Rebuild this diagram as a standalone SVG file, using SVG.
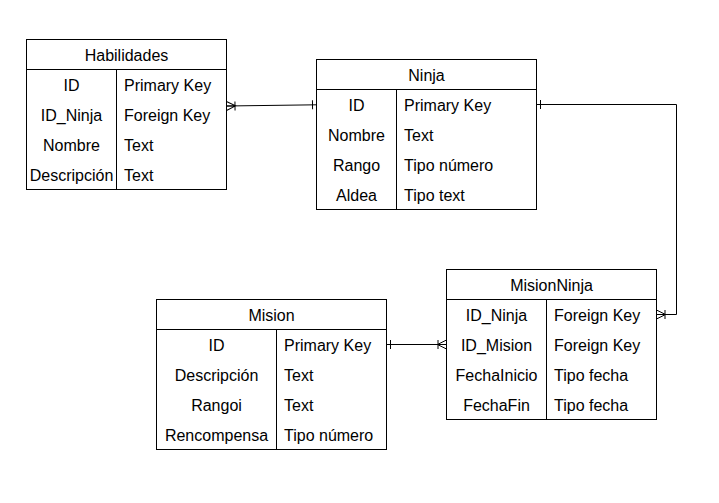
<svg xmlns="http://www.w3.org/2000/svg" width="719" height="503" viewBox="0 0 719 503">
<style>
.box{fill:#fff;stroke:#000;stroke-width:1}
.ln{fill:none;stroke:#000;stroke-width:1}
text{font-family:"Liberation Sans",Arial,sans-serif;font-size:16px;fill:#000}
.c{text-anchor:middle}
</style>
<defs>
<marker id="one" markerUnits="userSpaceOnUse" viewBox="-12 -6 14 12" refX="0" refY="0" markerWidth="14" markerHeight="12" orient="auto-start-reverse" overflow="visible">
<path d="M-4,-4.5 V4.5" fill="none" stroke="#000" stroke-width="1"/>
</marker>
<marker id="many" markerUnits="userSpaceOnUse" viewBox="-12 -6 14 12" refX="0" refY="0" markerWidth="14" markerHeight="12" orient="auto-start-reverse" overflow="visible">
<path d="M0,-4.5 L-9,0 L0,4.5 M-9,0 H0 M-8.5,-4.5 V4.5" fill="none" stroke="#000" stroke-width="1"/>
</marker>
</defs>
<rect width="719" height="503" fill="#fff"/>
<g id="connectors">
<path class="ln" d="M226.5,106 L316.5,104.8" marker-start="url(#many)" marker-end="url(#one)"/>
<path class="ln" d="M536.5,104.5 H676.5 V314.5 H656.5" marker-start="url(#one)" marker-end="url(#many)"/>
<path class="ln" d="M386.5,344.5 H446.5" marker-start="url(#one)" marker-end="url(#many)"/>
</g>
<g id="Habilidades">
<rect class="box" x="26.5" y="39.5" width="200" height="150"/>
<path class="ln" d="M26.5,69.5 H226.5 M116.5,69.5 V189.5"/>
<text class="c" x="126.5" y="60.5">Habilidades</text>
<text class="c" x="71.5" y="90.5">ID</text>
<text class="c" x="71.5" y="120.5">ID_Ninja</text>
<text class="c" x="71.5" y="150.5">Nombre</text>
<text class="c" x="71.5" y="180.5">Descripción</text>
<text x="124" y="90.5">Primary Key</text>
<text x="124" y="120.5">Foreign Key</text>
<text x="124" y="150.5">Text</text>
<text x="124" y="180.5">Text</text>
</g>
<g id="Ninja">
<rect class="box" x="316.5" y="59.5" width="220" height="150"/>
<path class="ln" d="M316.5,89.5 H536.5 M396.5,89.5 V209.5"/>
<text class="c" x="426.5" y="80.5">Ninja</text>
<text class="c" x="356.5" y="110.5">ID</text>
<text class="c" x="356.5" y="140.5">Nombre</text>
<text class="c" x="356.5" y="170.5">Rango</text>
<text class="c" x="356.5" y="200.5">Aldea</text>
<text x="404" y="110.5">Primary Key</text>
<text x="404" y="140.5">Text</text>
<text x="404" y="170.5">Tipo número</text>
<text x="404" y="200.5">Tipo text</text>
</g>
<g id="Mision">
<rect class="box" x="156.5" y="299.5" width="230" height="150"/>
<path class="ln" d="M156.5,329.5 H386.5 M276.5,329.5 V449.5"/>
<text class="c" x="271.5" y="320.5">Mision</text>
<text class="c" x="216.5" y="350.5">ID</text>
<text class="c" x="216.5" y="380.5">Descripción</text>
<text class="c" x="216.5" y="410.5">Rangoi</text>
<text class="c" x="216.5" y="440.5">Rencompensa</text>
<text x="284" y="350.5">Primary Key</text>
<text x="284" y="380.5">Text</text>
<text x="284" y="410.5">Text</text>
<text x="284" y="440.5">Tipo número</text>
</g>
<g id="MisionNinja">
<rect class="box" x="446.5" y="269.5" width="210" height="150"/>
<path class="ln" d="M446.5,299.5 H656.5 M546.5,299.5 V419.5"/>
<text class="c" x="551.5" y="290.5">MisionNinja</text>
<text class="c" x="496.5" y="320.5">ID_Ninja</text>
<text class="c" x="496.5" y="350.5">ID_Mision</text>
<text class="c" x="496.5" y="380.5">FechaInicio</text>
<text class="c" x="496.5" y="410.5">FechaFin</text>
<text x="554" y="320.5">Foreign Key</text>
<text x="554" y="350.5">Foreign Key</text>
<text x="554" y="380.5">Tipo fecha</text>
<text x="554" y="410.5">Tipo fecha</text>
</g>
</svg>
